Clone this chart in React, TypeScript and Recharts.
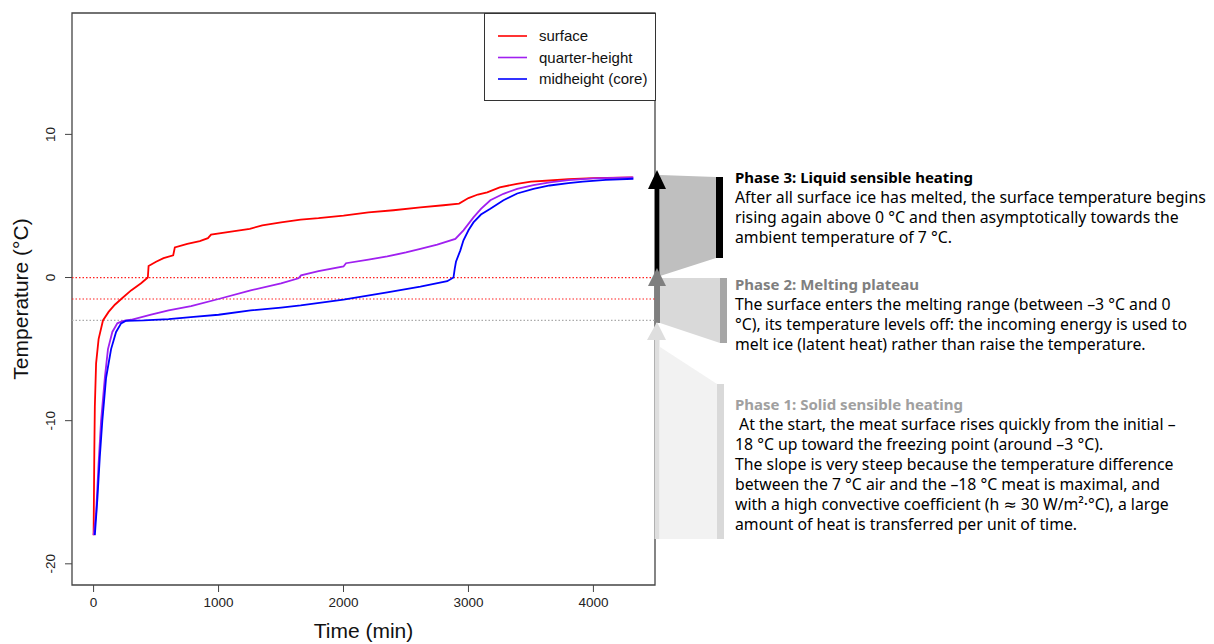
import React from 'react';
import { LineChart, Line, XAxis, YAxis, ReferenceLine, ReferenceArea, Legend } from 'recharts';

// time (min) and temperature (°C)
const surfaceTime = [0, 3, 6, 10, 20, 40, 75, 120, 170, 221, 300, 380, 434, 440, 500, 560, 637, 650, 750, 850, 915, 940, 1100, 1250, 1350, 1500, 1657, 1800, 2000, 2200, 2400, 2615, 2800, 2925, 3000, 3075, 3150, 3250, 3388, 3500, 3650, 3800, 4000, 4315];
const surfaceTemp = [-18, -15, -12, -9, -6, -4.3, -3.0, -2.4, -1.9, -1.5, -0.9, -0.4, 0, 0.8, 1.1, 1.35, 1.55, 2.1, 2.35, 2.55, 2.75, 3.0, 3.2, 3.4, 3.65, 3.85, 4.05, 4.15, 4.33, 4.55, 4.7, 4.9, 5.05, 5.17, 5.55, 5.8, 5.95, 6.3, 6.55, 6.7, 6.78, 6.88, 6.95, 7.0];

const quarterTime = [0, 20, 40, 60, 90, 115, 150, 190, 230, 300, 460, 600, 780, 1000, 1257, 1500, 1640, 1660, 1800, 2000, 2020, 2200, 2350, 2500, 2615, 2750, 2895, 2960, 3040, 3100, 3175, 3280, 3390, 3520, 3650, 3800, 4000, 4320];
const quarterTemp = [-18, -16.5, -13, -10, -7, -5, -3.8, -3.2, -3.05, -2.95, -2.6, -2.3, -2.0, -1.5, -0.9, -0.4, -0.05, 0.15, 0.45, 0.77, 1.0, 1.25, 1.47, 1.75, 2.0, 2.3, 2.7, 3.3, 4.2, 4.8, 5.4, 5.85, 6.2, 6.45, 6.65, 6.8, 6.92, 7.0];

const coreTime = [10, 30, 50, 70, 100, 140, 180, 220, 260, 400, 600, 800, 1000, 1257, 1500, 1657, 2000, 2350, 2615, 2830, 2880, 2890, 2900, 2935, 2960, 3000, 3040, 3100, 3175, 3280, 3390, 3520, 3650, 3800, 3915, 4100, 4320];
const coreTemp = [-18, -15.5, -12.5, -10, -7, -5, -3.8, -3.2, -3.02, -3.0, -2.9, -2.75, -2.6, -2.3, -2.1, -1.95, -1.55, -1.03, -0.63, -0.26, 0, 0.6, 1.1, 1.9, 2.6, 3.3, 3.85, 4.4, 4.8, 5.4, 5.87, 6.2, 6.43, 6.6, 6.7, 6.82, 6.9];

const seriesNames = ['surface', 'quarter-height', 'midheight (core)'];
const seriesColors = ['#ff0000', '#a020f0', '#0000ff'];

const xTicks = [0, 1000, 2000, 3000, 4000];
const yTicks = [-20, -10, 0, 10];
const xDomain = [-172.8, 4492.8];
const yDomain = [-21.48, 18.48];

const surfaceData = surfaceTime.map((t, i) => ({ t, v: surfaceTemp[i] }));
const quarterData = quarterTime.map((t, i) => ({ t, v: quarterTemp[i] }));
const coreData = coreTime.map((t, i) => ({ t, v: coreTemp[i] }));

const AXIS_FONT = '"Liberation Sans", Arial, sans-serif';
const NOTE_FONT = '"Noto Sans", "DejaVu Sans", sans-serif';

const phases = [
  {
    title: 'Phase 3: Liquid sensible heating',
    titleColor: '#000000',
    y: 183,
    lines: [
      'After all surface ice has melted, the surface temperature begins',
      'rising again above 0 °C and then asymptotically towards the',
      'ambient temperature of 7 °C.',
    ],
  },
  {
    title: 'Phase 2: Melting plateau',
    titleColor: '#7f7f7f',
    y: 290,
    lines: [
      'The surface enters the melting range (between –3 °C and 0',
      '°C), its temperature levels off: the incoming energy is used to',
      'melt ice (latent heat) rather than raise the temperature.',
    ],
  },
  {
    title: 'Phase 1: Solid sensible heating',
    titleColor: '#a0a0a0',
    y: 410,
    lines: [
      ' At the start, the meat surface rises quickly from the initial –',
      '18 °C up toward the freezing point (around –3 °C).',
      'The slope is very steep because the temperature difference',
      'between the 7 °C air and the –18 °C meat is maximal, and',
      'with a high convective coefficient (h ≈ 30 W/m²·°C), a large',
      'amount of heat is transferred per unit of time.',
    ],
  },
];

const XTick = ({ x, y, payload }: any) => (
  <text x={x} y={y + 13} textAnchor="middle" fontSize={13.5} fill="#222" fontFamily={AXIS_FONT}>
    {payload.value}
  </text>
);

const YTick = ({ y, payload }: any) => (
  <text x={55} y={y} textAnchor="middle" fontSize={13.5} fill="#222" fontFamily={AXIS_FONT} transform={`rotate(-90, 55, ${y})`}>
    {payload.value}
  </text>
);

const LegendBox = () => (
  <div style={{ position: 'relative', width: 172, height: 88, border: '1px solid #333', boxSizing: 'border-box', background: '#fff', fontFamily: AXIS_FONT, fontSize: 15 }}>
    <svg width={170} height={86} style={{ position: 'absolute', left: 0, top: 0 }}>
      {seriesNames.map((name, i) => (
        <line key={name} x1={13} x2={42} y1={22 + i * 21.5} y2={22 + i * 21.5} stroke={seriesColors[i]} strokeWidth={1.6} />
      ))}
    </svg>
    {seriesNames.map((name, i) => (
      <div key={name} style={{ position: 'absolute', left: 54, top: 13 + i * 21.5, lineHeight: '18px', color: '#111', whiteSpace: 'nowrap' }}>{name}</div>
    ))}
  </div>
);

function Annotations() {
  return (
    <svg width={1214} height={644} style={{ position: 'absolute', left: 0, top: 0, pointerEvents: 'none' }}>
      {/* phase 3 */}
      <polygon points="660,175 716,177 716,258 660,276" fill="#bfbfbf" />
      <rect x={716} y={177} width={7} height={81} fill="#000" />
      <rect x={655} y={186} width={4.5} height={90} fill="#000" />
      <polygon points="648,189 666,189 657,170" fill="#000" />
      {/* phase 2 */}
      <polygon points="660,278 720,278 720,343 660,323" fill="#d9d9d9" />
      <rect x={720} y={278} width={7} height={65} fill="#a6a6a6" />
      <rect x={655} y={283} width={5} height={40} fill="#7f7f7f" />
      <polygon points="648,286 666,286 657,268" fill="#7f7f7f" />
      {/* phase 1 */}
      <polygon points="660,347 717,384 717,539 660,539" fill="#f2f2f2" />
      <rect x={717} y={384} width={7} height={155} fill="#d9d9d9" />
      <rect x={654.5} y={337} width={5} height={202} fill="#dedede" />
      <polygon points="647,340 666,340 657,322" fill="#dedede" />
      {phases.map((ph) => (
        <g key={ph.title} fontFamily={NOTE_FONT}>
          <text x={735} y={ph.y} fontSize={15} fontWeight="bold" fill={ph.titleColor}>{ph.title}</text>
          {ph.lines.map((ln, i) => (
            <text key={i} x={735} y={ph.y + 20 * (i + 1)} fontSize={15.8} fill="#000" style={{ whiteSpace: 'pre' }}>{ln}</text>
          ))}
        </g>
      ))}
    </svg>
  );
}

export default function App() {
  return (
    <div style={{ position: 'absolute', left: 0, top: 0, width: 1214, height: 644, background: '#fff' }}>
      <LineChart width={1214} height={644} margin={{ top: 13, right: 559, bottom: 0, left: 0 }}>
        <XAxis
          type="number"
          dataKey="t"
          domain={xDomain}
          ticks={xTicks}
          allowDataOverflow
          height={59}
          axisLine={false}
          tickSize={7}
          tickLine={{ stroke: '#444' }}
          tick={<XTick />}
          label={{
            content: ({ viewBox }: any) => (
              <text x={viewBox.x + viewBox.width / 2} y={viewBox.y + 53} textAnchor="middle" fontSize={21} fontFamily={AXIS_FONT} fill="#111">
                Time (min)
              </text>
            ),
          }}
        />
        <YAxis
          type="number"
          domain={yDomain}
          ticks={yTicks}
          allowDataOverflow
          width={72}
          axisLine={false}
          tickSize={7}
          tickLine={{ stroke: '#444' }}
          tick={<YTick />}
          label={{
            content: ({ viewBox }: any) => (
              <text x={28} y={viewBox.y + viewBox.height / 2} textAnchor="middle" fontSize={21} fontFamily={AXIS_FONT} fill="#111" transform={`rotate(-90, 28, ${viewBox.y + viewBox.height / 2})`}>
                Temperature (°C)
              </text>
            ),
          }}
        />
        <ReferenceLine y={0} stroke="#ff2020" strokeWidth={1.2} strokeDasharray="1.5 2" />
        <ReferenceLine y={-1.5} stroke="#ff2020" strokeWidth={1.2} strokeDasharray="1.5 2" />
        <ReferenceLine y={-3} stroke="#aaaaaa" strokeWidth={1.2} strokeDasharray="1.5 2" />
        <Line data={surfaceData} dataKey="v" name={seriesNames[0]} stroke={seriesColors[0]} strokeWidth={1.8} dot={false} type="linear" isAnimationActive={false} />
        <Line data={quarterData} dataKey="v" name={seriesNames[1]} stroke={seriesColors[1]} strokeWidth={1.8} dot={false} type="linear" isAnimationActive={false} />
        <Line data={coreData} dataKey="v" name={seriesNames[2]} stroke={seriesColors[2]} strokeWidth={1.8} dot={false} type="linear" isAnimationActive={false} />
        <ReferenceArea x1={xDomain[0]} x2={xDomain[1]} y1={yDomain[0]} y2={yDomain[1]} fill="none" fillOpacity={0} stroke="#444" strokeWidth={1.3} />
        <Legend
          layout="vertical"
          align="center"
          verticalAlign="middle"
          content={<LegendBox />}
          wrapperStyle={{ left: 484, top: 13, width: 172, height: 88 }}
        />
      </LineChart>
      <Annotations />
    </div>
  );
}
